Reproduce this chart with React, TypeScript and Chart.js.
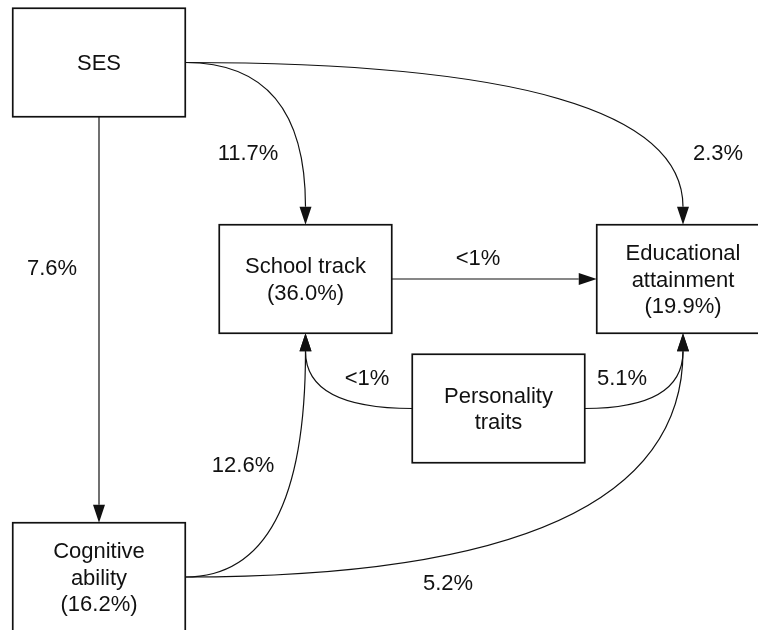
import { useEffect, useRef } from 'react';
import { Chart, registerables } from 'chart.js';
Chart.register(...registerables);

// ---- Data ----
const nodeLines: string[][] = [
  ['SES'],
  ['School track', '(36.0%)'],
  ['Educational', 'attainment', '(19.9%)'],
  ['Personality', 'traits'],
  ['Cognitive', 'ability', '(16.2%)'],
];
const nodeX = [99, 305.5, 683, 498.5, 99];
const nodeY = [62.5, 279, 279, 408.5, 577];

const edgeFrom = [0, 0, 0, 1, 3, 3, 4, 4];
const edgeTo = [1, 2, 4, 2, 1, 2, 1, 2];
const edgeFromSide = ['right', 'right', 'bottom', 'right', 'left', 'right', 'right', 'right'];
const edgeToSide = ['top', 'top', 'top', 'left', 'bottom', 'bottom', 'bottom', 'bottom'];
const edgeLabels = ['11.7%', '2.3%', '7.6%', '<1%', '<1%', '5.1%', '12.6%', '5.2%'];
const labelX = [248, 718, 52, 478, 367, 622, 243, 448];
const labelY = [153, 153, 268, 258, 378, 378, 465, 583];

// ---- Styles ----
const BOX_W = 172.5;
const BOX_H = 108.5;
const ARROW_LEN = 18;
const ARROW_HALF = 6;
const FONT = '22px "Liberation Sans", Arial, sans-serif';
const LINE_H = 26.5;
const INK = '#111';

function anchor(cx: number, cy: number, side: string, hw: number, hh: number) {
  if (side === 'right') return { x: cx + hw, y: cy };
  if (side === 'left') return { x: cx - hw, y: cy };
  if (side === 'top') return { x: cx, y: cy - hh };
  return { x: cx, y: cy + hh };
}
function entryDir(side: string) {
  if (side === 'top') return { x: 0, y: 1 };
  if (side === 'bottom') return { x: 0, y: -1 };
  if (side === 'left') return { x: 1, y: 0 };
  return { x: -1, y: 0 };
}

const diagramPlugin = {
  id: 'diagram',
  afterDatasetsDraw(chart: any) {
    const ctx = chart.ctx as CanvasRenderingContext2D;
    const xs = chart.scales.x;
    const ys = chart.scales.y;
    const hw = Math.abs(xs.getPixelForValue(BOX_W) - xs.getPixelForValue(0)) / 2;
    const hh = Math.abs(ys.getPixelForValue(BOX_H) - ys.getPixelForValue(0)) / 2;
    const meta = chart.getDatasetMeta(0);
    const centers = meta.data.map((p: any) => ({ x: p.x, y: p.y }));

    ctx.save();
    // edges
    ctx.strokeStyle = INK;
    ctx.fillStyle = INK;
    ctx.lineWidth = 1.2;
    for (let i = 0; i < edgeFrom.length; i++) {
      const a = centers[edgeFrom[i]];
      const b = centers[edgeTo[i]];
      const s = anchor(a.x, a.y, edgeFromSide[i], hw, hh);
      const tip = anchor(b.x, b.y, edgeToSide[i], hw, hh);
      const d = entryDir(edgeToSide[i]);
      const base = { x: tip.x - d.x * ARROW_LEN, y: tip.y - d.y * ARROW_LEN };
      ctx.beginPath();
      ctx.moveTo(s.x, s.y);
      if (Math.abs(s.x - base.x) < 1 || Math.abs(s.y - base.y) < 1) {
        ctx.lineTo(base.x, base.y);
      } else {
        const horizExit = edgeFromSide[i] === 'left' || edgeFromSide[i] === 'right';
        const c = horizExit ? { x: base.x, y: s.y } : { x: s.x, y: base.y };
        ctx.quadraticCurveTo(c.x, c.y, base.x, base.y);
      }
      ctx.stroke();
      // arrowhead
      const px = -d.y, py = d.x;
      ctx.beginPath();
      ctx.moveTo(tip.x, tip.y);
      ctx.lineTo(base.x + px * ARROW_HALF, base.y + py * ARROW_HALF);
      ctx.lineTo(base.x - px * ARROW_HALF, base.y - py * ARROW_HALF);
      ctx.closePath();
      ctx.fill();
    }

    // boxes
    ctx.lineWidth = 1.7;
    ctx.font = FONT;
    ctx.textAlign = 'center';
    ctx.textBaseline = 'middle';
    centers.forEach((c: any, i: number) => {
      ctx.fillStyle = '#fff';
      ctx.fillRect(c.x - hw, c.y - hh, hw * 2, hh * 2);
      ctx.strokeStyle = INK;
      ctx.strokeRect(c.x - hw, c.y - hh, hw * 2, hh * 2);
      ctx.fillStyle = INK;
      const lines = nodeLines[i];
      const top = c.y + 1.5 - ((lines.length - 1) * LINE_H) / 2;
      lines.forEach((t, k) => ctx.fillText(t, c.x, top + k * LINE_H));
    });

    // edge labels
    ctx.fillStyle = INK;
    for (let i = 0; i < edgeLabels.length; i++) {
      ctx.fillText(edgeLabels[i], xs.getPixelForValue(labelX[i]), ys.getPixelForValue(labelY[i]) + 1);
    }
    ctx.restore();
  },
};

export default function App() {
  const ref = useRef<HTMLCanvasElement | null>(null);
  useEffect(() => {
    document.body.style.margin = '0';
    const chart = new Chart(ref.current as HTMLCanvasElement, {
      type: 'scatter',
      data: {
        datasets: [
          {
            data: nodeX.map((x, i) => ({ x, y: nodeY[i] })),
            pointRadius: 0,
            pointHoverRadius: 0,
          },
        ],
      },
      options: {
        responsive: false,
        animation: false,
        layout: { padding: 0 },
        events: [],
        plugins: { legend: { display: false }, tooltip: { enabled: false } },
        scales: {
          x: { type: 'linear', min: 0, max: 758, display: false },
          y: { type: 'linear', min: 0, max: 630, reverse: true, display: false },
        },
      },
      plugins: [diagramPlugin],
    });
    return () => chart.destroy();
  }, []);
  return (
    <div style={{ position: 'absolute', left: 0, top: 0, width: 758, height: 630, background: '#fff' }}>
      <canvas ref={ref} width={758} height={630} style={{ display: 'block' }} />
    </div>
  );
}
